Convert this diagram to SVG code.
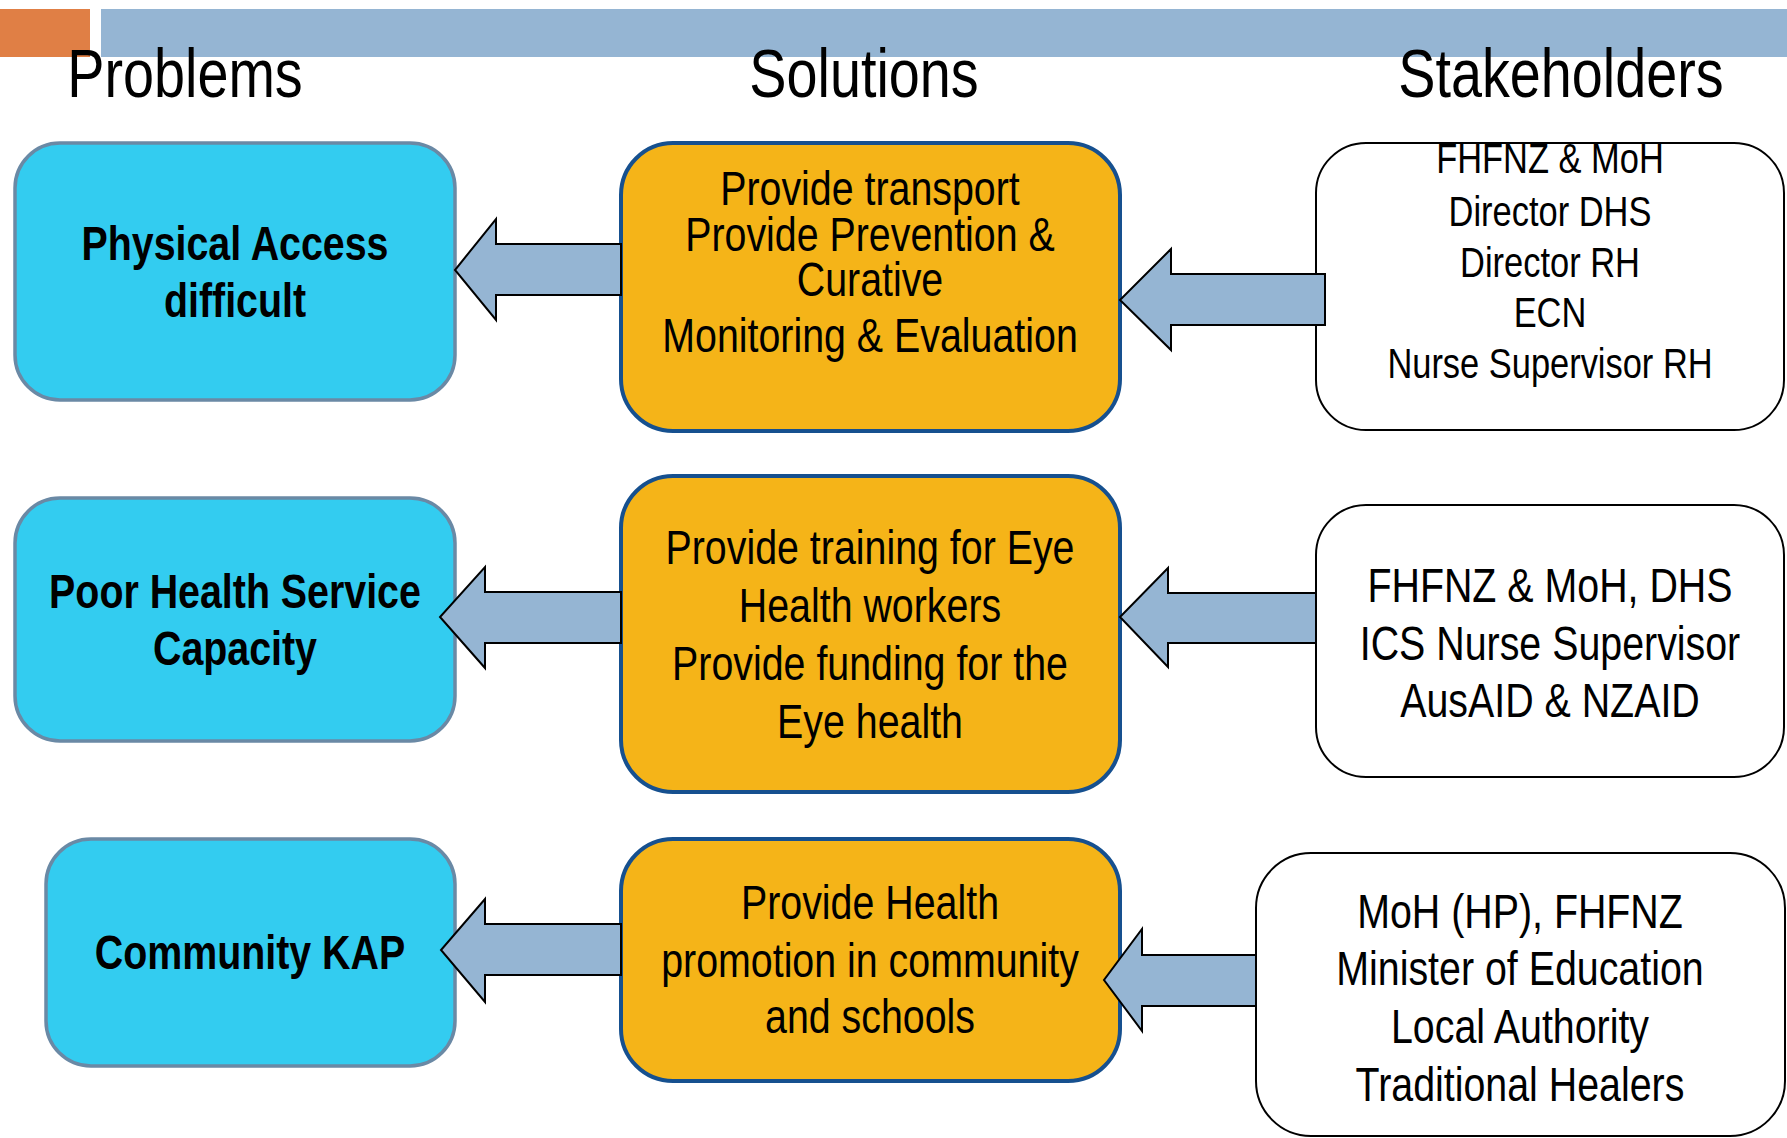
<svg xmlns="http://www.w3.org/2000/svg" width="1787" height="1138" viewBox="0 0 1787 1138">
  <style>
    text { font-family: "Liberation Sans", Arial, sans-serif; fill: #000; text-anchor: middle; }
    .head { font-size: 68px; }
    .prob rect { fill: #33CCF0; stroke: #6A89A5; stroke-width: 3.5; }
    .prob text { font-size: 48px; font-weight: bold; }
    .sol rect { fill: #F5B418; stroke: #16508F; stroke-width: 4; }
    .sol text { font-size: 48px; }
    .stake rect { fill: #FFFFFF; stroke: #000; stroke-width: 2; }
    .stake text { font-size: 48px; }
    .stake text.small { font-size: 42px; }
    .arrow { fill: #95B5D3; stroke: #000; stroke-width: 2; stroke-linejoin: miter; }
  </style>
  <defs>
    <clipPath id="clipStake1">
      <rect x="1316" y="143" width="468" height="287" rx="50"/>
    </clipPath>
  </defs>

  <!-- title bars -->
  <rect x="0" y="9" width="90" height="48" fill="#E07F45"/>
  <rect x="101" y="9" width="1686" height="48" fill="#95B5D3"/>

  <!-- column headings (narrow lettering: condensed horizontally about each centre) -->
  <g id="headings">
    <g transform="translate(185 0) scale(0.82 1) translate(-185 0)">
      <text class="head" x="185" y="97">Problems</text>
    </g>
    <g transform="translate(864 0) scale(0.82 1) translate(-864 0)">
      <text class="head" x="864" y="97">Solutions</text>
    </g>
    <g transform="translate(1561 0) scale(0.82 1) translate(-1561 0)">
      <text class="head" x="1561" y="97">Stakeholders</text>
    </g>
  </g>

  <!-- problems -->
  <g id="problem-physical-access" class="prob">
    <rect x="15" y="143" width="440" height="257" rx="45"/>
    <g transform="translate(235 0) scale(0.82 1) translate(-235 0)">
      <text x="235" y="260">Physical Access</text>
      <text x="235" y="317">difficult</text>
    </g>
  </g>
  <g id="problem-health-service" class="prob">
    <rect x="15" y="498" width="440" height="243" rx="45"/>
    <g transform="translate(235 0) scale(0.82 1) translate(-235 0)">
      <text x="235" y="608">Poor Health Service</text>
      <text x="235" y="665">Capacity</text>
    </g>
  </g>
  <g id="problem-community-kap" class="prob">
    <rect x="46" y="839" width="409" height="227" rx="45"/>
    <g transform="translate(250 0) scale(0.82 1) translate(-250 0)">
      <text x="250" y="969">Community KAP</text>
    </g>
  </g>

  <!-- solutions -->
  <g id="solution-transport" class="sol">
    <rect x="621" y="143" width="499" height="288" rx="52"/>
    <g transform="translate(870 0) scale(0.82 1) translate(-870 0)">
      <text x="870" y="205">Provide transport</text>
      <text x="870" y="251">Provide Prevention &amp;</text>
      <text x="870" y="296">Curative</text>
      <text x="870" y="352">Monitoring &amp; Evaluation</text>
    </g>
  </g>
  <g id="solution-training" class="sol">
    <rect x="621" y="476" width="499" height="316" rx="52"/>
    <g transform="translate(870 0) scale(0.82 1) translate(-870 0)">
      <text x="870" y="564">Provide training for Eye</text>
      <text x="870" y="622">Health workers</text>
      <text x="870" y="680">Provide funding for the</text>
      <text x="870" y="738">Eye health</text>
    </g>
  </g>
  <g id="solution-promotion" class="sol">
    <rect x="621" y="839" width="499" height="242" rx="52"/>
    <g transform="translate(870 0) scale(0.82 1) translate(-870 0)">
      <text x="870" y="919">Provide Health</text>
      <text x="870" y="977">promotion in community</text>
      <text x="870" y="1033">and schools</text>
    </g>
  </g>

  <!-- stakeholders -->
  <g id="stakeholders-transport" class="stake">
    <rect x="1316" y="143" width="468" height="287" rx="50"/>
    <g clip-path="url(#clipStake1)">
      <g transform="translate(1550 0) scale(0.82 1) translate(-1550 0)">
        <text class="small" x="1550" y="173">FHFNZ &amp; MoH</text>
        <text class="small" x="1550" y="226">Director DHS</text>
        <text class="small" x="1550" y="277">Director RH</text>
        <text class="small" x="1550" y="327">ECN</text>
        <text class="small" x="1550" y="378">Nurse Supervisor RH</text>
      </g>
    </g>
  </g>
  <g id="stakeholders-training" class="stake">
    <rect x="1316" y="505" width="468" height="272" rx="50"/>
    <g transform="translate(1550 0) scale(0.82 1) translate(-1550 0)">
      <text x="1550" y="602">FHFNZ &amp; MoH, DHS</text>
      <text x="1550" y="660">ICS Nurse Supervisor</text>
      <text x="1550" y="717">AusAID &amp; NZAID</text>
    </g>
  </g>
  <g id="stakeholders-promotion" class="stake">
    <rect x="1256" y="853" width="529" height="283" rx="55"/>
    <g transform="translate(1520 0) scale(0.82 1) translate(-1520 0)">
      <text x="1520" y="928">MoH (HP), FHFNZ</text>
      <text x="1520" y="985">Minister of Education</text>
      <text x="1520" y="1043">Local Authority</text>
      <text x="1520" y="1101">Traditional Healers</text>
    </g>
  </g>

  <!-- block arrows: stakeholders -> solutions -> problems -->
  <g id="connectors">
    <polygon class="arrow" points="621,244 496,244 496,219 455,270 496,320 496,295 621,295"/>
    <polygon class="arrow" points="1325,274 1171,274 1171,249 1120,300 1171,350 1171,325 1325,325"/>
    <polygon class="arrow" points="621,592 485,592 485,567 440,617 485,668 485,643 621,643"/>
    <polygon class="arrow" points="1316,593 1168,593 1168,568 1120,617 1168,667 1168,643 1316,643"/>
    <polygon class="arrow" points="621,924 485,924 485,899 441,950 485,1002 485,975 621,975"/>
    <polygon class="arrow" points="1256,955 1142,955 1142,929 1104,980 1142,1031 1142,1006 1256,1006"/>
  </g>
</svg>
